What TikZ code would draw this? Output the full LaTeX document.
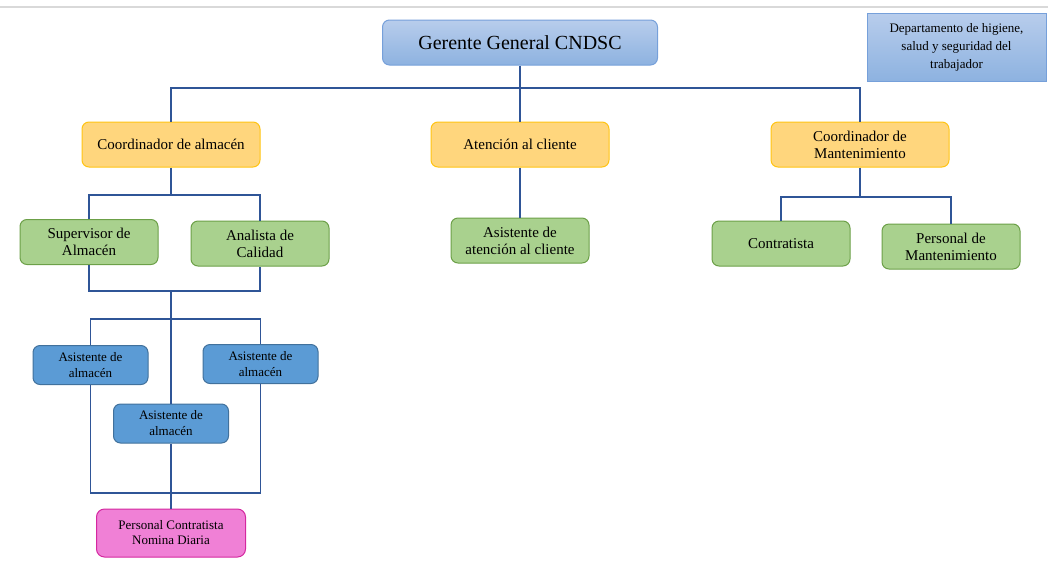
\documentclass[tikz,border=0pt]{standalone}
\usepackage{fontspec}
\setmainfont{Liberation Serif}
\usepackage{xcolor}
\definecolor{linea}{RGB}{47,85,151}
\definecolor{gerenteA}{RGB}{184,205,236}
\definecolor{gerenteB}{RGB}{141,178,224}
\definecolor{gerenteC}{RGB}{118,160,218}
\definecolor{naranja}{RGB}{255,214,125}
\definecolor{naranjaC}{RGB}{255,196,20}
\definecolor{verde}{RGB}{169,209,142}
\definecolor{verdeC}{RGB}{108,160,72}
\definecolor{azul}{RGB}{91,155,213}
\definecolor{azulC}{RGB}{65,113,156}
\definecolor{rosa}{RGB}{240,128,214}
\definecolor{rosaC}{RGB}{212,40,160}

\begin{document}
\begin{tikzpicture}[x=1pt,y=-1pt,
	caja/.style={draw, align=center, line width=1pt, inner sep=2pt, text=black},
	jefebox/.style={caja, rounded corners=7pt, draw=gerenteC, top color=gerenteA, bottom color=gerenteB,
		minimum width=275pt, minimum height=45pt, font=\fontsize{20}{24}\selectfont},
	deptobox/.style={caja, draw=gerenteC, top color=gerenteA, bottom color=gerenteB,
		minimum width=179pt, minimum height=68pt, font=\fontsize{13}{18}\selectfont},
	coordbox/.style={caja, rounded corners=7pt, fill=naranja, draw=naranjaC,
		minimum width=178pt, minimum height=45pt, font=\fontsize{15}{17}\selectfont},
	verdebox/.style={caja, rounded corners=7pt, fill=verde, draw=verdeC,
		minimum width=138pt, minimum height=45pt, font=\fontsize{15}{17}\selectfont},
	azulbox/.style={caja, rounded corners=7pt, fill=azul, draw=azulC,
		minimum width=115pt, minimum height=39pt, font=\fontsize{13}{16}\selectfont},
	rosabox/.style={caja, rounded corners=8pt, fill=rosa, draw=rosaC,
		minimum width=149pt, minimum height=48pt, font=\fontsize{13}{15}\selectfont},
	conn/.style={draw=linea, line width=1.2pt}]
	\useasboundingbox (0,0) rectangle (1048,565);
	\draw[gray!30, line width=2.5pt] (0,7) -- (1048,7);

	% nivel 1
	\node[jefebox] (gerente) at (520,42.5) {Gerente General CNDSC};
	\node[deptobox] (depto) at (956.5,47) {Departamento de higiene,\\salud y seguridad del\\trabajador};

	% nivel 2
	\node[coordbox] (coordalm) at (171,144.5) {Coordinador de almacén};
	\node[coordbox] (atencion) at (520,144.5) {Atención al cliente};
	\node[coordbox] (coordmant) at (860,144.5) {Coordinador de\\Mantenimiento};

	% nivel 3
	\node[verdebox] (superv) at (89,242) {Supervisor de\\Almacén};
	\node[verdebox] (analista) at (260,243.5) {Analista de\\Calidad};
	\node[verdebox] (asisat) at (520,240.5) {Asistente de\\atención al cliente};
	\node[verdebox] (contrat) at (781,243.5) {Contratista};
	\node[verdebox] (persmant) at (951,246.5) {Personal de\\Mantenimiento};

	% asistentes
	\node[azulbox] (asis1) at (90.5,365) {Asistente de\\almacén};
	\node[azulbox] (asis3) at (260.5,364) {Asistente de\\almacén};
	\node[azulbox] (asis2) at (171,423.5) {Asistente de\\almacén};
	\node[rosabox] (personal) at (171,533) {Personal Contratista\\Nomina Diaria};

	\coordinate (j0) at (520,88);
	\coordinate (j1) at (171,195);
	\coordinate (j2) at (171,291);
	\coordinate (j3) at (171,319);
	\coordinate (j4) at (171,493);
	\coordinate (j5) at (860,197);

	\draw[conn] (gerente.south) -- (atencion.north);
	\draw[conn] (coordalm.north) |- (j0) -| (coordmant.north);
	\draw[conn] (atencion.south) -- (asisat.north);
	\draw[conn] (coordalm.south) -- (j1);
	\draw[conn] (superv.north) |- (j1) -| (analista.north);
	\draw[conn] (superv.south) |- (j2) -| (analista.south);
	\draw[conn] (j2) -- (asis2.north);
	\draw[conn] (asis1.north) |- (j3) -| (asis3.north);
	\draw[conn] (asis1.south) |- (j4) -| (asis3.south);
	\draw[conn] (asis2.south) -- (personal.north);
	\draw[conn] (coordmant.south) -- (j5);
	\draw[conn] (contrat.north) |- (j5) -| (persmant.north);
\end{tikzpicture}
\end{document}
